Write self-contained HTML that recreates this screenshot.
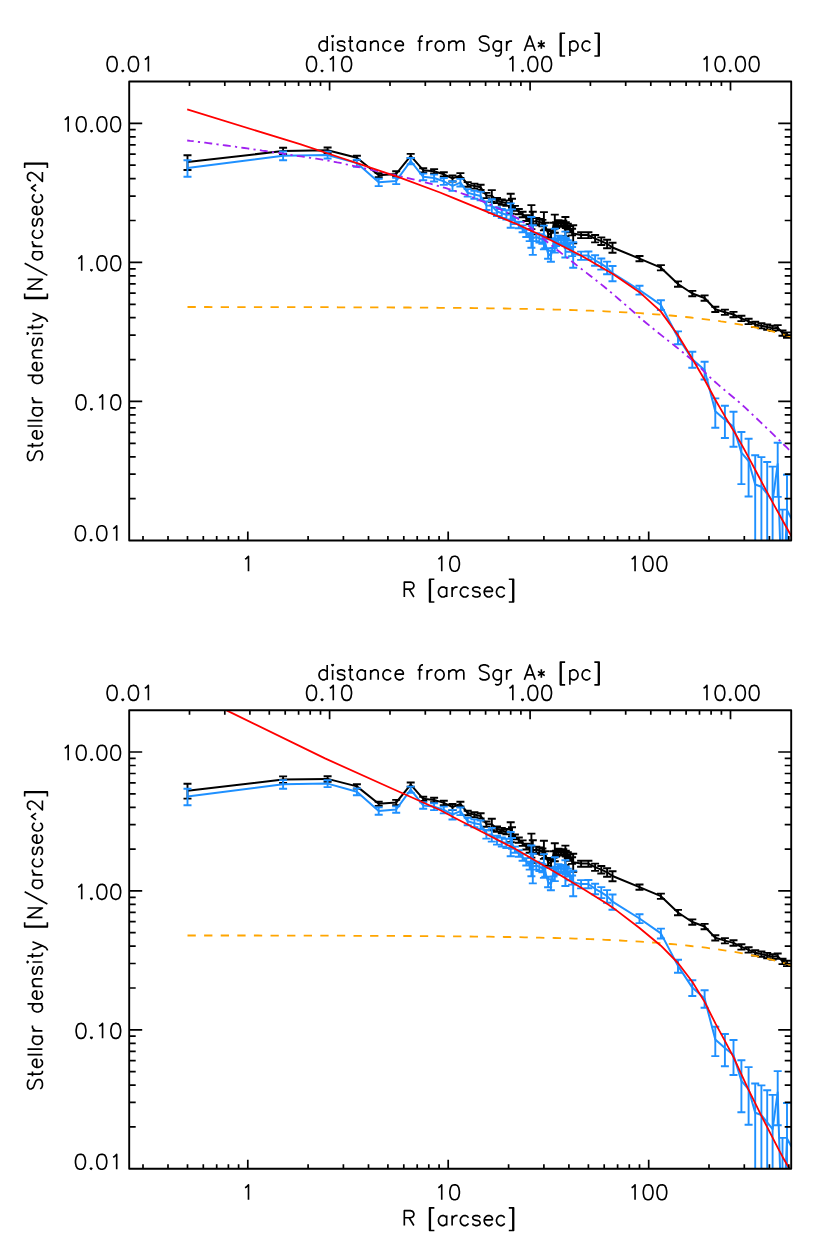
<!DOCTYPE html>
<html><head><meta charset="utf-8"><title>Stellar density profile</title>
<style>
html,body{margin:0;padding:0;background:#fff;}
svg{display:block;}
text{font-family:"Liberation Sans",sans-serif;fill:#000;}
</style></head>
<body>
<svg width="830" height="1251" viewBox="0 0 830 1251">
<rect width="830" height="1251" fill="#fff"/>
<clipPath id="c1"><rect x="129.2" y="81.5" width="662.0" height="459.0"/></clipPath>
<g clip-path="url(#c1)" fill="none" stroke-linejoin="round">
<polyline points="187.5,162.1 283.1,151.0 327.6,150.3 356.9,157.8 378.7,175.2 396.2,173.9 410.7,155.9 423.2,170.2 434.1,171.3 443.8,174.3 452.5,178.4 460.4,175.5 467.7,184.4 474.4,186.1 480.6,187.3 486.4,195.5 491.8,195.7 497.0,200.4 501.8,202.0 506.4,203.1 510.7,202.9 512.0,203.1 514.9,208.3 518.8,211.5 522.6,214.5 526.3,218.0 529.7,221.0 531.4,215.9 532.8,221.9 536.3,221.0 539.4,222.0 542.4,223.0 543.9,220.5 545.3,226.0 548.1,233.3 550.9,235.2 553.5,226.0 554.8,223.0 556.1,225.0 558.5,223.0 561.0,224.0 563.3,223.5 565.4,225.9 565.8,225.0 567.8,226.5 570.0,229.0 572.1,232.0 573.2,233.6 581.1,235.1 588.4,235.1 595.1,238.6 601.3,241.1 607.1,243.8 612.5,247.5 639.5,258.6 660.9,267.7 678.0,284.0 692.3,293.5 704.6,298.0 715.3,309.3 724.9,312.2 733.5,314.5 741.4,318.4 748.6,321.4 755.2,324.4 761.4,325.7 767.2,327.1 772.6,328.4 777.7,327.7 782.5,333.0 787.0,335.0 791.4,337.2" stroke="#000" stroke-width="2"/>
<path d="M187.5 155.2V170.0M183.5 155.2h8M183.5 170.0h8M283.1 147.8V154.3M279.1 147.8h8M279.1 154.3h8M327.6 147.5V153.2M323.6 147.5h8M323.6 153.2h8M356.9 155.7V160.0M352.9 155.7h8M352.9 160.0h8M378.7 173.1V177.3M374.7 173.1h8M374.7 177.3h8M396.2 171.3V176.6M392.2 171.3h8M392.2 176.6h8M410.7 153.9V158.0M406.7 153.9h8M406.7 158.0h8M423.2 168.2V172.4M419.2 168.2h8M419.2 172.4h8M434.1 169.1V173.5M430.1 169.1h8M430.1 173.5h8M443.8 172.2V176.5M439.8 172.2h8M439.8 176.5h8M452.5 175.5V181.5M448.5 175.5h8M448.5 181.5h8M460.4 173.1V177.9M456.4 173.1h8M456.4 177.9h8M467.7 182.1V186.7M463.7 182.1h8M463.7 186.7h8M474.4 183.6V188.6M470.4 183.6h8M470.4 188.6h8M480.6 184.7V189.9M476.6 184.7h8M476.6 189.9h8M486.4 192.9V198.1M482.4 192.9h8M482.4 198.1h8M491.8 190.1V201.8M487.8 190.1h8M487.8 201.8h8M497.0 197.9V203.1M493.0 197.9h8M493.0 203.1h8M501.8 199.4V204.7M497.8 199.4h8M497.8 204.7h8M506.4 200.4V205.9M502.4 200.4h8M502.4 205.9h8M510.7 193.7V213.7M506.7 193.7h8M506.7 213.7h8M512.0 198.7V207.8M508.0 198.7h8M508.0 207.8h8M514.9 205.9V210.8M510.9 205.9h8M510.9 210.8h8M518.8 209.0V214.2M514.8 209.0h8M514.8 214.2h8M522.6 211.8V217.3M518.6 211.8h8M518.6 217.3h8M526.3 215.2V221.0M522.3 215.2h8M522.3 221.0h8M529.7 218.0V224.1M525.7 218.0h8M525.7 224.1h8M531.4 205.1V229.1M527.4 205.1h8M527.4 229.1h8M532.8 211.7V234.2M528.8 211.7h8M528.8 234.2h8M536.3 218.0V224.1M532.3 218.0h8M532.3 224.1h8M539.4 219.0V225.2M535.4 219.0h8M535.4 225.2h8M542.4 219.9V226.2M538.4 219.9h8M538.4 226.2h8M543.9 212.1V230.4M539.9 212.1h8M539.9 230.4h8M545.3 222.8V229.4M541.3 222.8h8M541.3 229.4h8M548.1 229.6V237.1M544.1 229.6h8M544.1 237.1h8M550.9 231.4V239.1M546.9 231.4h8M546.9 239.1h8M553.5 222.8V229.4M549.5 222.8h8M549.5 229.4h8M554.8 214.6V232.7M550.8 214.6h8M550.8 232.7h8M556.1 222.1V228.0M552.1 222.1h8M552.1 228.0h8M558.5 220.2V225.9M554.5 220.2h8M554.5 225.9h8M561.0 221.2V226.9M557.0 221.2h8M557.0 226.9h8M563.3 220.7V226.4M559.3 220.7h8M559.3 226.4h8M565.4 217.0V236.3M561.4 217.0h8M561.4 236.3h8M565.8 222.1V228.0M561.8 222.1h8M561.8 228.0h8M567.8 223.6V229.6M563.8 223.6h8M563.8 229.6h8M570.0 226.0V232.2M566.0 226.0h8M566.0 232.2h8M572.1 228.8V235.4M568.1 228.8h8M568.1 235.4h8M573.2 225.2V243.4M569.2 225.2h8M569.2 243.4h8M581.1 232.2V238.1M577.1 232.2h8M577.1 238.1h8M588.4 232.2V238.1M584.4 232.2h8M584.4 238.1h8M595.1 235.0V242.4M591.1 235.0h8M591.1 242.4h8M601.3 237.4V245.0M597.3 237.4h8M597.3 245.0h8M607.1 239.7V248.2M603.1 239.7h8M603.1 248.2h8M612.5 242.7V252.7M608.5 242.7h8M608.5 252.7h8M639.5 256.0V261.3M635.5 256.0h8M635.5 261.3h8M660.9 265.1V270.4M656.9 265.1h8M656.9 270.4h8M678.0 281.4V286.7M674.0 281.4h8M674.0 286.7h8M692.3 290.9V296.2M688.3 290.9h8M688.3 296.2h8M704.6 295.4V300.7M700.6 295.4h8M700.6 300.7h8M715.3 306.7V312.0M711.3 306.7h8M711.3 312.0h8M724.9 309.6V314.9M720.9 309.6h8M720.9 314.9h8M733.5 311.9V317.2M729.5 311.9h8M729.5 317.2h8M741.4 315.8V321.1M737.4 315.8h8M737.4 321.1h8M748.6 318.8V324.1M744.6 318.8h8M744.6 324.1h8M755.2 321.8V327.1M751.2 321.8h8M751.2 327.1h8M761.4 323.1V328.4M757.4 323.1h8M757.4 328.4h8M767.2 324.5V329.8M763.2 324.5h8M763.2 329.8h8M772.6 325.8V331.1M768.6 325.8h8M768.6 331.1h8M777.7 325.1V330.4M773.7 325.1h8M773.7 330.4h8M782.5 330.4V335.7M778.5 330.4h8M778.5 335.7h8M787.0 332.4V337.7M783.0 332.4h8M783.0 337.7h8" stroke="#000" stroke-width="1.9" fill="none"/>
<polyline points="187.5,167.9 283.1,155.7 327.6,155.0 356.9,163.1 378.7,182.3 396.2,180.9 410.7,161.0 423.2,176.8 434.1,178.0 443.8,181.3 452.5,185.9 460.4,182.6 467.7,192.7 474.4,194.6 480.6,196.0 486.4,205.6 491.8,205.8 497.0,211.5 501.8,213.3 506.4,214.7 510.7,214.4 512.0,214.7 514.9,221.0 518.8,225.0 522.6,228.7 526.3,233.2 529.7,237.0 531.4,230.4 532.8,238.2 536.3,237.0 539.4,238.3 542.4,239.6 543.9,236.3 545.3,243.5 548.1,253.4 550.9,256.0 553.5,243.4 554.8,239.5 556.1,242.1 558.5,239.4 561.0,240.7 563.3,240.0 565.4,243.2 565.8,242.0 567.8,244.0 570.0,247.3 572.1,251.4 573.2,253.6 581.1,255.6 588.4,255.5 595.1,260.3 601.3,263.8 607.1,267.6 612.5,273.1 639.5,290.0 660.9,304.9 678.0,337.5 692.3,359.2 704.6,370.0 715.3,411.3 724.9,419.7 733.5,426.7 741.4,452.6 748.6,461.0 755.2,484.5 761.4,486.7 767.2,494.0 772.6,501.0 777.7,464.0 782.5,620.0 787.0,510.3 791.4,518.4" stroke="#1e90ff" stroke-width="2"/>
<path d="M187.5 160.2V176.7M183.5 160.2h8M183.5 176.7h8M283.1 151.5V160.2M279.1 151.5h8M279.1 160.2h8M327.6 151.6V158.5M323.6 151.6h8M323.6 158.5h8M356.9 159.8V166.7M352.9 159.8h8M352.9 166.7h8M378.7 178.8V186.1M374.7 178.8h8M374.7 186.1h8M396.2 177.8V184.1M392.2 177.8h8M392.2 184.1h8M410.7 158.0V164.3M406.7 158.0h8M406.7 164.3h8M423.2 173.6V180.2M419.2 173.6h8M419.2 180.2h8M434.1 174.6V181.5M430.1 174.6h8M430.1 181.5h8M443.8 178.0V184.9M439.8 178.0h8M439.8 184.9h8M452.5 181.3V190.9M448.5 181.3h8M448.5 190.9h8M460.4 178.9V186.5M456.4 178.9h8M456.4 186.5h8M467.7 189.1V196.6M463.7 189.1h8M463.7 196.6h8M474.4 190.8V198.8M470.4 190.8h8M470.4 198.8h8M480.6 191.9V200.4M476.6 191.9h8M476.6 200.4h8M486.4 201.4V210.0M482.4 201.4h8M482.4 210.0h8M491.8 199.3V213.1M487.8 199.3h8M487.8 213.1h8M497.0 207.3V216.0M493.0 207.3h8M493.0 216.0h8M501.8 209.0V218.0M497.8 209.0h8M497.8 218.0h8M506.4 210.2V219.5M502.4 210.2h8M502.4 219.5h8M510.7 203.4V227.8M506.7 203.4h8M506.7 227.8h8M512.0 209.4V220.4M508.0 209.4h8M508.0 220.4h8M514.9 218.0V224.1M510.9 218.0h8M510.9 224.1h8M518.8 221.8V228.3M514.8 221.8h8M514.8 228.3h8M522.6 225.4V232.3M518.6 225.4h8M518.6 232.3h8M526.3 229.5V237.0M522.3 229.5h8M522.3 237.0h8M529.7 233.2V241.1M525.7 233.2h8M525.7 241.1h8M531.4 217.0V247.8M527.4 217.0h8M527.4 247.8h8M532.8 225.2V254.9M528.8 225.2h8M528.8 254.9h8M536.3 233.1V241.1M532.3 233.1h8M532.3 241.1h8M539.4 234.3V242.5M535.4 234.3h8M535.4 242.5h8M542.4 235.6V243.8M538.4 235.6h8M538.4 243.8h8M543.9 225.6V249.4M539.9 225.6h8M539.9 249.4h8M545.3 239.2V248.1M541.3 239.2h8M541.3 248.1h8M548.1 248.4V258.8M544.1 248.4h8M544.1 258.8h8M550.9 250.8V261.7M546.9 250.8h8M546.9 261.7h8M553.5 239.2V248.0M549.5 239.2h8M549.5 248.0h8M554.8 228.7V252.6M550.8 228.7h8M550.8 252.6h8M556.1 238.3V246.1M552.1 238.3h8M552.1 246.1h8M558.5 235.8V243.3M554.5 235.8h8M554.5 243.3h8M561.0 237.0V244.6M557.0 237.0h8M557.0 244.6h8M563.3 236.4V243.9M559.3 236.4h8M559.3 243.9h8M565.4 231.6V257.5M561.4 231.6h8M561.4 257.5h8M565.8 238.2V246.0M561.8 238.2h8M561.8 246.0h8M567.8 240.1V248.1M563.8 240.1h8M563.8 248.1h8M570.0 243.2V251.7M566.0 243.2h8M566.0 251.7h8M572.1 247.0V256.1M568.1 247.0h8M568.1 256.1h8M573.2 242.2V267.7M569.2 242.2h8M569.2 267.7h8M581.1 251.6V259.9M577.1 251.6h8M577.1 259.9h8M588.4 251.5V259.8M584.4 251.5h8M584.4 259.8h8M595.1 255.3V265.8M591.1 255.3h8M591.1 265.8h8M601.3 258.5V269.6M597.3 258.5h8M597.3 269.6h8M607.1 261.6V274.3M603.1 261.6h8M603.1 274.3h8M612.5 266.0V281.2M608.5 266.0h8M608.5 281.2h8M639.5 285.7V294.6M635.5 285.7h8M635.5 294.6h8M660.9 300.2V310.0M656.9 300.2h8M656.9 310.0h8M678.0 331.4V344.3M674.0 331.4h8M674.0 344.3h8M692.3 351.8V367.7M688.3 351.8h8M688.3 367.7h8M704.6 361.8V379.5M700.6 361.8h8M700.6 379.5h8M715.3 398.4V427.7M711.3 398.4h8M711.3 427.7h8M724.9 405.7V438.0M720.9 405.7h8M720.9 438.0h8M733.5 411.7V446.7M729.5 411.7h8M729.5 446.7h8M741.4 432.0V484.1M737.4 432.0h8M737.4 484.1h8M748.6 438.8V496.5M744.6 438.8h8M744.6 496.5h8M755.2 455.2V543.5M751.2 455.2h8M751.2 543.5h8M761.4 457.1V547.2M757.4 457.1h8M757.4 547.2h8M767.2 462.0V566.3M763.2 462.0h8M763.2 566.3h8M772.6 466.6V588.9M768.6 466.6h8M768.6 588.9h8M777.7 442.8V496.9M773.7 442.8h8M773.7 496.9h8M782.5 509.6V700.0M778.5 509.6h8M778.5 700.0h8M787.0 474.7V608.1M783.0 474.7h8M783.0 608.1h8" stroke="#1e90ff" stroke-width="1.9" fill="none"/>
<polyline points="187.5,307.0 192.5,307.0 197.5,307.0 202.6,307.0 207.6,307.0 212.6,307.1 217.7,307.1 222.7,307.1 227.7,307.1 232.8,307.1 237.8,307.1 242.8,307.1 247.9,307.1 252.9,307.1 257.9,307.1 262.9,307.1 268.0,307.1 273.0,307.1 278.0,307.1 283.1,307.1 288.1,307.1 293.1,307.1 298.2,307.2 303.2,307.2 308.2,307.2 313.3,307.2 318.3,307.2 323.3,307.2 328.4,307.2 333.4,307.2 338.4,307.3 343.5,307.3 348.5,307.3 353.5,307.3 358.6,307.3 363.6,307.3 368.6,307.4 373.7,307.4 378.7,307.4 383.7,307.4 388.8,307.4 393.8,307.5 398.8,307.5 403.9,307.5 408.9,307.5 413.9,307.6 419.0,307.6 424.0,307.6 429.0,307.7 434.1,307.7 439.1,307.8 444.1,307.8 449.2,307.8 454.2,307.9 459.2,307.9 464.3,308.0 469.3,308.0 474.3,308.1 479.4,308.2 484.4,308.2 489.4,308.3 494.5,308.4 499.5,308.4 504.5,308.5 509.6,308.6 514.6,308.7 519.6,308.8 524.6,308.9 529.7,309.0 534.7,309.1 539.7,309.2 544.8,309.3 549.8,309.4 554.8,309.6 559.9,309.7 564.9,309.8 569.9,310.0 575.0,310.2 580.0,310.3 585.0,310.5 590.1,310.7 595.1,310.9 600.1,311.1 605.2,311.3 610.2,311.6 615.2,311.8 620.3,312.1 625.3,312.3 630.3,312.6 635.4,312.9 640.4,313.2 645.4,313.6 650.5,313.9 655.5,314.3 660.5,314.7 665.6,315.1 670.6,315.5 675.6,316.0 680.7,316.5 685.7,317.0 690.7,317.5 695.8,318.1 700.8,318.7 705.8,319.3 710.9,319.9 715.9,320.6 720.9,321.4 726.0,322.1 731.0,322.9 736.0,323.8 741.1,324.7 746.1,325.6 751.1,326.6 756.2,327.7 761.2,328.8 766.2,330.0 771.3,331.2 776.3,332.5 781.3,333.8 786.3,335.3 791.4,336.8" stroke="#ffa500" stroke-width="1.8" stroke-dasharray="8.3 8.3"/>
<polyline points="187.2,140.5 190.2,140.9 193.2,141.2 196.2,141.6 199.2,142.0 202.2,142.4 205.2,142.7 208.2,143.1 211.2,143.5 214.2,143.9 217.2,144.3 220.2,144.7 223.2,145.1 226.2,145.5 229.2,145.9 232.2,146.3 235.2,146.7 238.2,147.2 241.2,147.6 244.2,148.0 247.2,148.4 250.2,148.9 253.2,149.3 256.2,149.7 259.2,150.1 262.2,150.6 265.2,151.0 268.2,151.5 271.2,151.9 274.2,152.4 277.2,152.8 280.2,153.2 283.2,153.7 286.2,154.1 289.2,154.6 292.2,155.1 295.2,155.5 298.2,156.0 301.2,156.4 304.2,156.9 307.2,157.3 310.2,157.8 313.2,158.3 316.2,158.7 319.2,159.2 322.2,159.7 325.2,160.2 328.2,160.7 331.2,161.3 334.2,161.8 337.2,162.4 340.2,162.9 343.2,163.6 346.2,164.3 349.2,164.9 352.2,165.6 355.2,166.3 358.2,167.0 361.2,167.6 364.2,168.3 367.2,169.0 370.2,169.6 373.2,170.3 376.2,170.9 379.2,171.6 382.2,172.3 385.2,172.9 388.2,173.6 391.2,174.3 394.2,174.9 397.2,175.6 400.2,176.3 403.2,177.0 406.2,177.7 409.2,178.4 412.2,179.1 415.2,179.9 418.2,180.6 421.2,181.4 424.2,182.1 427.2,182.9 430.2,183.7 433.2,184.5 436.2,185.4 439.2,186.2 442.2,187.1 445.2,187.9 448.2,188.9 451.2,189.8 454.2,190.8 457.2,191.8 460.2,192.8 463.2,193.8 466.2,194.9 469.2,196.0 472.2,197.2 475.2,198.3 478.2,199.5 481.2,200.8 484.2,202.0 487.2,203.3 490.2,204.6 493.2,205.9 496.2,207.3 499.2,208.7 502.2,210.2 505.2,211.7 508.2,213.2 511.2,214.8 514.2,216.5 517.2,218.2 520.2,220.1 523.2,222.0 526.2,224.0 529.2,226.4 532.2,228.9 535.2,231.6 538.2,234.4 541.2,237.0 544.2,239.6 547.2,242.0 550.2,244.4 553.2,246.8 556.2,249.2 559.2,251.5 562.2,253.9 565.2,256.2 568.2,258.6 571.2,260.9 574.2,263.3 577.2,265.6 580.2,268.0 583.2,270.3 586.2,272.6 589.2,275.0 592.2,277.3 595.2,279.6 598.2,282.0 601.2,284.4 604.2,286.8 607.2,289.3 610.2,291.8 613.2,294.3 616.2,296.9 619.2,299.5 622.2,302.1 625.2,304.6 628.2,307.1 631.2,309.8 634.2,312.5 637.2,315.3 640.2,317.9 643.2,320.5 646.2,323.0 649.2,325.4 652.2,327.9 655.2,330.3 658.2,332.7 661.2,335.1 664.2,337.5 667.2,339.9 670.2,342.3 673.2,344.6 676.2,347.0 679.2,349.3 682.2,351.8 685.2,354.3 688.2,356.8 691.2,359.4 694.2,362.0 697.2,364.8 700.2,367.6 703.2,370.6 706.2,373.6 709.2,376.5 712.2,379.3 715.2,382.0 718.2,384.6 721.2,387.2 724.2,389.7 727.2,392.2 730.2,394.7 733.2,397.2 736.2,399.7 739.2,402.3 742.2,405.0 745.2,407.7 748.2,410.5 751.2,413.3 754.2,416.1 757.2,419.0 760.2,421.9 763.2,424.7 766.2,427.6 769.2,430.5 772.2,433.4 775.2,436.3 778.2,439.2 781.2,442.1 784.2,445.0 787.2,447.9 790.2,450.9" stroke="#a020f0" stroke-width="1.8" stroke-dasharray="8 4.25 2.2 4.25" stroke-dashoffset="1.5"/>
<polyline points="187.2,109.4 300.0,144.2 340.0,157.5 360.0,164.1 400.0,177.6 440.0,192.5 455.0,198.7 480.0,208.9 515.0,223.3 529.2,229.9 540.0,234.7 581.0,255.5 612.5,273.8 639.5,292.2 660.9,311.6 678.0,335.3 692.3,358.8 704.6,379.8 715.6,400.2 725.7,417.6 734.5,432.3 742.2,445.6 749.8,459.6 756.1,471.5 762.4,483.4 768.4,494.6 773.7,504.4 779.2,514.2 782.5,520.2 787.1,528.5 791.4,536.3" stroke="#ff0000" stroke-width="1.8"/>
</g>
<rect x="129.2" y="81.5" width="662.0" height="459.0" fill="none" stroke="#000" stroke-width="1.9" stroke-linejoin="round"/>
<path d="M143.0 540.5v-4.5M168.0 540.5v-4.5M187.5 540.5v-4.5M203.3 540.5v-4.5M216.7 540.5v-4.5M228.4 540.5v-4.5M238.6 540.5v-4.5M247.8 540.5v-9.0M308.1 540.5v-4.5M343.4 540.5v-4.5M368.5 540.5v-4.5M387.9 540.5v-4.5M403.8 540.5v-4.5M417.2 540.5v-4.5M428.8 540.5v-4.5M439.1 540.5v-4.5M448.2 540.5v-9.0M508.6 540.5v-4.5M543.9 540.5v-4.5M568.9 540.5v-4.5M588.4 540.5v-4.5M604.2 540.5v-4.5M617.6 540.5v-4.5M629.3 540.5v-4.5M639.5 540.5v-4.5M648.7 540.5v-9.0M709.0 540.5v-4.5M744.3 540.5v-4.5M769.4 540.5v-4.5M788.8 540.5v-4.5M189.5 81.5v4.5M224.8 81.5v4.5M249.9 81.5v4.5M269.3 81.5v4.5M285.2 81.5v4.5M298.6 81.5v4.5M310.2 81.5v4.5M320.5 81.5v4.5M329.6 81.5v9.0M390.0 81.5v4.5M425.3 81.5v4.5M450.3 81.5v4.5M469.8 81.5v4.5M485.6 81.5v4.5M499.0 81.5v4.5M510.7 81.5v4.5M520.9 81.5v4.5M530.1 81.5v9.0M590.4 81.5v4.5M625.7 81.5v4.5M650.8 81.5v4.5M670.2 81.5v4.5M686.1 81.5v4.5M699.5 81.5v4.5M711.1 81.5v4.5M721.4 81.5v4.5M730.5 81.5v9.0M129.2 498.6h6.5M791.2 498.6h-6.5M129.2 474.2h6.5M791.2 474.2h-6.5M129.2 456.8h6.5M791.2 456.8h-6.5M129.2 443.3h6.5M791.2 443.3h-6.5M129.2 432.3h6.5M791.2 432.3h-6.5M129.2 423.0h6.5M791.2 423.0h-6.5M129.2 414.9h6.5M791.2 414.9h-6.5M129.2 407.8h6.5M791.2 407.8h-6.5M129.2 401.4h13.0M791.2 401.4h-13.0M129.2 359.6h6.5M791.2 359.6h-6.5M129.2 335.1h6.5M791.2 335.1h-6.5M129.2 317.7h6.5M791.2 317.7h-6.5M129.2 304.3h6.5M791.2 304.3h-6.5M129.2 293.2h6.5M791.2 293.2h-6.5M129.2 283.9h6.5M791.2 283.9h-6.5M129.2 275.9h6.5M791.2 275.9h-6.5M129.2 268.8h6.5M791.2 268.8h-6.5M129.2 262.4h13.0M791.2 262.4h-13.0M129.2 220.5h6.5M791.2 220.5h-6.5M129.2 196.1h6.5M791.2 196.1h-6.5M129.2 178.7h6.5M791.2 178.7h-6.5M129.2 165.2h6.5M791.2 165.2h-6.5M129.2 154.2h6.5M791.2 154.2h-6.5M129.2 144.9h6.5M791.2 144.9h-6.5M129.2 136.8h6.5M791.2 136.8h-6.5M129.2 129.7h6.5M791.2 129.7h-6.5M129.2 123.3h13.0M791.2 123.3h-13.0" stroke="#000" stroke-width="1.7" fill="none"/>
<path d="M327.18 43.19L327.18 48.87L325.82 50.29L324.46 51.00L322.42 51.00L321.06 50.29L319.70 48.87L319.02 46.74L319.02 45.32L319.70 43.19L321.06 41.77L322.42 41.06L324.46 41.06L325.82 41.77L327.18 43.19L327.18 36.09M327.18 48.87L327.18 51.00M332.62 51.00L332.62 41.06M332.62 35.38L333.30 36.09L332.62 36.80L331.94 36.09L332.62 35.38M337.38 48.87L338.06 50.29L340.10 51.00L342.14 51.00L344.18 50.29L344.86 48.87L344.86 48.16L344.18 46.74L342.82 46.03L339.42 45.32L338.06 44.61L337.38 43.19L338.06 41.77L340.10 41.06L342.14 41.06L344.18 41.77L344.86 43.19M348.26 41.06L350.30 41.06L350.30 36.09M353.70 51.00L352.34 51.00L350.98 50.29L350.30 48.16L350.30 41.06L353.02 41.06M365.26 43.19L365.26 48.87L363.90 50.29L362.54 51.00L360.50 51.00L359.14 50.29L357.78 48.87L357.10 46.74L357.10 45.32L357.78 43.19L359.14 41.77L360.50 41.06L362.54 41.06L363.90 41.77L365.26 43.19L365.26 41.06M365.26 48.87L365.26 51.00M378.17 51.00L378.17 43.90L377.49 41.77L376.13 41.06L374.09 41.06L372.73 41.77L370.69 43.90L370.69 41.06M370.69 43.90L370.69 51.00M391.09 48.87L389.73 50.29L388.37 51.00L386.33 51.00L384.97 50.29L383.61 48.87L382.93 46.74L382.93 45.32L383.61 43.19L384.97 41.77L386.33 41.06L388.37 41.06L389.73 41.77L391.09 43.19M395.17 45.32L403.33 45.32L403.33 43.90L402.65 42.48L401.97 41.77L400.61 41.06L398.57 41.06L397.21 41.77L395.85 43.19L395.17 45.32L395.17 46.74L395.85 48.87L397.21 50.29L398.57 51.00L400.61 51.00L401.97 50.29L403.33 48.87M417.60 41.06L419.64 41.06L419.64 38.93L420.32 36.80L421.68 36.09L423.04 36.09M419.64 51.00L419.64 41.06L422.36 41.06M432.56 41.06L430.52 41.06L429.16 41.77L427.80 43.19L427.12 45.32L427.12 41.06M427.12 45.32L427.12 51.00M438.68 41.06L437.32 41.77L435.96 43.19L435.28 45.32L435.28 46.74L435.96 48.87L437.32 50.29L438.68 51.00L440.72 51.00L442.08 50.29L443.44 48.87L444.12 46.74L444.12 45.32L443.44 43.19L442.08 41.77L440.72 41.06L438.68 41.06M463.83 51.00L463.83 43.90L463.15 41.77L461.79 41.06L459.75 41.06L458.40 41.77L456.36 43.90L455.68 41.77L454.32 41.06L452.28 41.06L450.92 41.77L448.88 43.90L448.88 41.06M448.88 43.90L448.88 51.00M456.36 43.90L456.36 51.00M479.47 48.87L480.83 50.29L482.87 51.00L485.59 51.00L487.63 50.29L488.99 48.87L488.99 46.74L488.31 45.32L487.63 44.61L486.27 43.90L482.19 42.48L480.83 41.77L480.15 41.06L479.47 39.64L479.47 38.22L480.83 36.80L482.87 36.09L485.59 36.09L487.63 36.80L488.99 38.22M501.23 43.19L501.23 48.87L499.87 50.29L498.51 51.00L496.47 51.00L495.11 50.29L493.75 48.87L493.07 46.74L493.07 45.32L493.75 43.19L495.11 41.77L496.47 41.06L498.51 41.06L499.87 41.77L501.23 43.19L501.23 41.06M501.23 48.87L501.23 52.42L500.55 54.55L499.87 55.26L498.51 55.97L496.47 55.97L495.11 55.26M512.10 41.06L510.06 41.06L508.70 41.77L507.34 43.19L506.66 45.32L506.66 41.06M506.66 45.32L506.66 51.00M535.22 51.00L529.78 36.09L524.34 51.00M533.18 46.03L526.38 46.03M537.94 42.48L541.34 44.61L541.34 40.35M541.34 48.87L541.34 44.61L544.74 42.48M544.74 46.74L541.34 44.61L537.94 46.74M565.13 55.97L560.37 55.97L560.37 33.25L565.13 33.25M561.05 33.25L561.05 55.97M569.89 43.19L569.89 48.87L571.25 50.29L572.61 51.00L574.65 51.00L576.01 50.29L577.37 48.87L578.05 46.74L578.05 45.32L577.37 43.19L576.01 41.77L574.65 41.06L572.61 41.06L571.25 41.77L569.89 43.19L569.89 41.06M569.89 48.87L569.89 55.97M590.29 48.87L588.93 50.29L587.57 51.00L585.53 51.00L584.17 50.29L582.81 48.87L582.13 46.74L582.13 45.32L582.81 43.19L584.17 41.77L585.53 41.06L587.57 41.06L588.93 41.77L590.29 43.19M594.37 55.97L599.13 55.97L599.13 33.25L594.37 33.25M598.45 33.25L598.45 55.97M111.39 56.59L109.26 57.30L107.84 59.43L107.12 62.98L107.12 65.11L107.84 68.66L109.26 70.79L111.39 71.50L112.81 71.50L114.95 70.79L116.37 68.66L117.08 65.11L117.08 62.98L116.37 59.43L114.95 57.30L112.81 56.59L111.39 56.59M122.77 70.08L123.48 70.79L122.77 71.50L122.06 70.79L122.77 70.08M132.73 56.59L130.59 57.30L129.17 59.43L128.46 62.98L128.46 65.11L129.17 68.66L130.59 70.79L132.73 71.50L134.15 71.50L136.28 70.79L137.71 68.66L138.42 65.11L138.42 62.98L137.71 59.43L136.28 57.30L134.15 56.59L132.73 56.59M148.37 71.50L148.37 56.59L146.24 58.72L144.82 59.43M310.83 56.59L308.73 57.30L307.33 59.43L306.62 62.98L306.62 65.11L307.33 68.66L308.73 70.79L310.83 71.50L312.24 71.50L314.34 70.79L315.75 68.66L316.45 65.11L316.45 62.98L315.75 59.43L314.34 57.30L312.24 56.59L310.83 56.59M322.06 70.08L322.76 70.79L322.06 71.50L321.36 70.79L322.06 70.08M333.28 71.50L333.28 56.59L331.18 58.72L329.78 59.43M345.91 56.59L343.81 57.30L342.40 59.43L341.70 62.98L341.70 65.11L342.40 68.66L343.81 70.79L345.91 71.50L347.32 71.50L349.42 70.79L350.82 68.66L351.52 65.11L351.52 62.98L350.82 59.43L349.42 57.30L347.32 56.59L345.91 56.59M512.84 71.50L512.84 56.59L510.77 58.72L509.39 59.43M522.50 70.08L523.19 70.79L522.50 71.50L521.81 70.79L522.50 70.08M532.16 56.59L530.09 57.30L528.71 59.43L528.02 62.98L528.02 65.11L528.71 68.66L530.09 70.79L532.16 71.50L533.54 71.50L535.61 70.79L536.99 68.66L537.68 65.11L537.68 62.98L536.99 59.43L535.61 57.30L533.54 56.59L532.16 56.59M545.96 56.59L543.89 57.30L542.51 59.43L541.82 62.98L541.82 65.11L542.51 68.66L543.89 70.79L545.96 71.50L547.34 71.50L549.41 70.79L550.79 68.66L551.48 65.11L551.48 62.98L550.79 59.43L549.41 57.30L547.34 56.59L545.96 56.59M706.95 71.50L706.95 56.59L704.89 58.72L703.53 59.43M719.27 56.59L717.22 57.30L715.85 59.43L715.16 62.98L715.16 65.11L715.85 68.66L717.22 70.79L719.27 71.50L720.64 71.50L722.69 70.79L724.06 68.66L724.75 65.11L724.75 62.98L724.06 59.43L722.69 57.30L720.64 56.59L719.27 56.59M730.22 70.08L730.91 70.79L730.22 71.50L729.54 70.79L730.22 70.08M739.81 56.59L737.75 57.30L736.38 59.43L735.70 62.98L735.70 65.11L736.38 68.66L737.75 70.79L739.81 71.50L741.18 71.50L743.23 70.79L744.60 68.66L745.28 65.11L745.28 62.98L744.60 59.43L743.23 57.30L741.18 56.59L739.81 56.59M753.50 56.59L751.44 57.30L750.08 59.43L749.39 62.98L749.39 65.11L750.08 68.66L751.44 70.79L753.50 71.50L754.87 71.50L756.92 70.79L758.29 68.66L758.97 65.11L758.97 62.98L758.29 59.43L756.92 57.30L754.87 56.59L753.50 56.59M248.49 571.20L248.49 556.29L246.42 558.42L245.04 559.13M441.72 571.20L441.72 556.29L439.68 558.42L438.32 559.13M453.94 556.29L451.91 557.00L450.55 559.13L449.87 562.68L449.87 564.81L450.55 568.36L451.91 570.49L453.94 571.20L455.30 571.20L457.34 570.49L458.70 568.36L459.38 564.81L459.38 562.68L458.70 559.13L457.34 557.00L455.30 556.29L453.94 556.29M635.06 571.20L635.06 556.29L633.00 558.42L631.62 559.13M647.43 556.29L645.37 557.00L644.00 559.13L643.31 562.68L643.31 564.81L644.00 568.36L645.37 570.49L647.43 571.20L648.81 571.20L650.87 570.49L652.24 568.36L652.93 564.81L652.93 562.68L652.24 559.13L650.87 557.00L648.81 556.29L647.43 556.29M661.18 556.29L659.12 557.00L657.74 559.13L657.05 562.68L657.05 564.81L657.74 568.36L659.12 570.49L661.18 571.20L662.55 571.20L664.61 570.49L665.99 568.36L666.68 564.81L666.68 562.68L665.99 559.13L664.61 557.00L662.55 556.29L661.18 556.29M409.10 589.19L410.47 589.19L412.52 588.48L413.20 587.77L413.88 586.35L413.88 584.93L413.20 583.51L412.52 582.80L410.47 582.09L404.32 582.09L404.32 589.19L409.10 589.19L413.88 597.00M404.32 589.19L404.32 597.00M434.37 601.97L429.59 601.97L429.59 579.25L434.37 579.25M430.27 579.25L430.27 601.97M446.66 589.19L446.66 594.87L445.29 596.29L443.93 597.00L441.88 597.00L440.51 596.29L439.15 594.87L438.47 592.74L438.47 591.32L439.15 589.19L440.51 587.77L441.88 587.06L443.93 587.06L445.29 587.77L446.66 589.19L446.66 587.06M446.66 594.87L446.66 597.00M457.58 587.06L455.54 587.06L454.17 587.77L452.80 589.19L452.12 591.32L452.12 587.06M452.12 591.32L452.12 597.00M468.51 594.87L467.14 596.29L465.78 597.00L463.73 597.00L462.36 596.29L461.00 594.87L460.32 592.74L460.32 591.32L461.00 589.19L462.36 587.77L463.73 587.06L465.78 587.06L467.14 587.77L468.51 589.19M472.61 594.87L473.29 596.29L475.34 597.00L477.39 597.00L479.43 596.29L480.12 594.87L480.12 594.16L479.43 592.74L478.07 592.03L474.65 591.32L473.29 590.61L472.61 589.19L473.29 587.77L475.34 587.06L477.39 587.06L479.43 587.77L480.12 589.19M484.21 591.32L492.41 591.32L492.41 589.90L491.72 588.48L491.04 587.77L489.68 587.06L487.63 587.06L486.26 587.77L484.90 589.19L484.21 591.32L484.21 592.74L484.90 594.87L486.26 596.29L487.63 597.00L489.68 597.00L491.04 596.29L492.41 594.87M504.70 594.87L503.33 596.29L501.97 597.00L499.92 597.00L498.55 596.29L497.19 594.87L496.50 592.74L496.50 591.32L497.19 589.19L498.55 587.77L499.92 587.06L501.97 587.06L503.33 587.77L504.70 589.19M508.80 601.97L513.57 601.97L513.57 579.25L508.80 579.25M512.89 579.25L512.89 601.97M68.17 131.70L68.17 116.79L66.10 118.92L64.72 119.63M80.56 116.79L78.49 117.50L77.11 119.63L76.43 123.18L76.43 125.31L77.11 128.86L78.49 130.99L80.56 131.70L81.93 131.70L84.00 130.99L85.37 128.86L86.06 125.31L86.06 123.18L85.37 119.63L84.00 117.50L81.93 116.79L80.56 116.79M91.57 130.28L92.26 130.99L91.57 131.70L90.88 130.99L91.57 130.28M101.20 116.79L99.14 117.50L97.76 119.63L97.07 123.18L97.07 125.31L97.76 128.86L99.14 130.99L101.20 131.70L102.58 131.70L104.64 130.99L106.02 128.86L106.71 125.31L106.71 123.18L106.02 119.63L104.64 117.50L102.58 116.79L101.20 116.79M114.97 116.79L112.90 117.50L111.53 119.63L110.84 123.18L110.84 125.31L111.53 128.86L112.90 130.99L114.97 131.70L116.35 131.70L118.41 130.99L119.79 128.86L120.47 125.31L120.47 123.18L119.79 119.63L118.41 117.50L116.35 116.79L114.97 116.79M81.70 270.75L81.70 255.84L79.61 257.97L78.22 258.68M91.43 269.33L92.12 270.04L91.43 270.75L90.73 270.04L91.43 269.33M101.16 255.84L99.07 256.55L97.68 258.68L96.99 262.23L96.99 264.36L97.68 267.91L99.07 270.04L101.16 270.75L102.55 270.75L104.63 270.04L106.02 267.91L106.72 264.36L106.72 262.23L106.02 258.68L104.63 256.55L102.55 255.84L101.16 255.84M115.06 255.84L112.97 256.55L111.58 258.68L110.89 262.23L110.89 264.36L111.58 267.91L112.97 270.04L115.06 270.75L116.45 270.75L118.53 270.04L119.92 267.91L120.62 264.36L120.62 262.23L119.92 258.68L118.53 256.55L116.45 255.84L115.06 255.84M80.31 394.89L78.22 395.60L76.83 397.73L76.14 401.28L76.14 403.41L76.83 406.96L78.22 409.09L80.31 409.80L81.70 409.80L83.78 409.09L85.17 406.96L85.87 403.41L85.87 401.28L85.17 397.73L83.78 395.60L81.70 394.89L80.31 394.89M91.43 408.38L92.12 409.09L91.43 409.80L90.73 409.09L91.43 408.38M102.55 409.80L102.55 394.89L100.46 397.02L99.07 397.73M115.06 394.89L112.97 395.60L111.58 397.73L110.89 401.28L110.89 403.41L111.58 406.96L112.97 409.09L115.06 409.80L116.45 409.80L118.53 409.09L119.92 406.96L120.62 403.41L120.62 401.28L119.92 397.73L118.53 395.60L116.45 394.89L115.06 394.89M79.74 525.79L77.61 526.50L76.19 528.63L75.48 532.18L75.48 534.31L76.19 537.86L77.61 539.99L79.74 540.70L81.16 540.70L83.29 539.99L84.71 537.86L85.42 534.31L85.42 532.18L84.71 528.63L83.29 526.50L81.16 525.79L79.74 525.79M91.10 539.28L91.81 539.99L91.10 540.70L90.39 539.99L91.10 539.28M101.05 525.79L98.92 526.50L97.50 528.63L96.79 532.18L96.79 534.31L97.50 537.86L98.92 539.99L101.05 540.70L102.47 540.70L104.60 539.99L106.02 537.86L106.73 534.31L106.73 532.18L106.02 528.63L104.60 526.50L102.47 525.79L101.05 525.79M116.68 540.70L116.68 525.79L114.54 527.92L113.12 528.63M40.27 460.48L41.69 459.12L42.40 457.10L42.40 454.39L41.69 452.37L40.27 451.02L38.14 451.02L36.72 451.69L36.01 452.37L35.30 453.72L33.88 457.77L33.17 459.12L32.46 459.80L31.04 460.48L29.62 460.48L28.20 459.12L27.49 457.10L27.49 454.39L28.20 452.37L29.62 451.02M32.46 447.64L32.46 445.61L27.49 445.61M42.40 442.23L42.40 443.59L41.69 444.94L39.56 445.61L32.46 445.61L32.46 442.91M36.72 438.86L36.72 430.75L35.30 430.75L33.88 431.43L33.17 432.10L32.46 433.45L32.46 435.48L33.17 436.83L34.59 438.18L36.72 438.86L38.14 438.86L40.27 438.18L41.69 436.83L42.40 435.48L42.40 433.45L41.69 432.10L40.27 430.75M42.40 426.02L27.49 426.02M42.40 420.62L27.49 420.62M34.59 407.78L40.27 407.78L41.69 409.13L42.40 410.48L42.40 412.51L41.69 413.86L40.27 415.21L38.14 415.89L36.72 415.89L34.59 415.21L33.17 413.86L32.46 412.51L32.46 410.48L33.17 409.13L34.59 407.78L32.46 407.78M40.27 407.78L42.40 407.78M32.46 396.97L32.46 399.00L33.17 400.35L34.59 401.70L36.72 402.38L32.46 402.38M36.72 402.38L42.40 402.38M34.59 375.35L40.27 375.35L41.69 376.70L42.40 378.06L42.40 380.08L41.69 381.43L40.27 382.78L38.14 383.46L36.72 383.46L34.59 382.78L33.17 381.43L32.46 380.08L32.46 378.06L33.17 376.70L34.59 375.35L27.49 375.35M40.27 375.35L42.40 375.35M36.72 370.62L36.72 362.52L35.30 362.52L33.88 363.19L33.17 363.87L32.46 365.22L32.46 367.25L33.17 368.60L34.59 369.95L36.72 370.62L38.14 370.62L40.27 369.95L41.69 368.60L42.40 367.25L42.40 365.22L41.69 363.87L40.27 362.52M42.40 350.36L35.30 350.36L33.17 351.03L32.46 352.38L32.46 354.41L33.17 355.76L35.30 357.79L32.46 357.79M35.30 357.79L42.40 357.79M40.27 345.63L41.69 344.95L42.40 342.93L42.40 340.90L41.69 338.87L40.27 338.20L39.56 338.20L38.14 338.87L37.43 340.22L36.72 343.60L36.01 344.95L34.59 345.63L33.17 344.95L32.46 342.93L32.46 340.90L33.17 338.87L34.59 338.20M42.40 333.47L32.46 333.47M26.78 333.47L27.49 332.79L28.20 333.47L27.49 334.14L26.78 333.47M32.46 329.41L32.46 327.39L27.49 327.39M42.40 324.01L42.40 325.36L41.69 326.71L39.56 327.39L32.46 327.39L32.46 324.69M32.46 313.20L42.40 317.25L32.46 321.31M42.40 317.25L45.24 318.61L46.66 319.96L47.37 321.31L47.37 321.98M47.37 293.61L47.37 298.34L24.65 298.34L24.65 293.61M24.65 297.66L47.37 297.66M42.40 288.88L27.49 288.88L42.40 279.42L27.49 279.42M47.37 275.37L24.65 263.21M34.59 251.72L40.27 251.72L41.69 253.08L42.40 254.43L42.40 256.45L41.69 257.80L40.27 259.16L38.14 259.83L36.72 259.83L34.59 259.16L33.17 257.80L32.46 256.45L32.46 254.43L33.17 253.08L34.59 251.72L32.46 251.72M40.27 251.72L42.40 251.72M32.46 240.92L32.46 242.94L33.17 244.29L34.59 245.64L36.72 246.32L32.46 246.32M36.72 246.32L42.40 246.32M40.27 230.11L41.69 231.46L42.40 232.81L42.40 234.84L41.69 236.19L40.27 237.54L38.14 238.21L36.72 238.21L34.59 237.54L33.17 236.19L32.46 234.84L32.46 232.81L33.17 231.46L34.59 230.11M40.27 226.05L41.69 225.38L42.40 223.35L42.40 221.32L41.69 219.30L40.27 218.62L39.56 218.62L38.14 219.30L37.43 220.65L36.72 224.03L36.01 225.38L34.59 226.05L33.17 225.38L32.46 223.35L32.46 221.32L33.17 219.30L34.59 218.62M36.72 214.57L36.72 206.46L35.30 206.46L33.88 207.14L33.17 207.81L32.46 209.16L32.46 211.19L33.17 212.54L34.59 213.89L36.72 214.57L38.14 214.57L40.27 213.89L41.69 212.54L42.40 211.19L42.40 209.16L41.69 207.81L40.27 206.46M40.27 194.30L41.69 195.65L42.40 197.00L42.40 199.03L41.69 200.38L40.27 201.73L38.14 202.41L36.72 202.41L34.59 201.73L33.17 200.38L32.46 199.03L32.46 197.00L33.17 195.65L34.59 194.30M36.01 191.26L31.39 187.88L36.01 184.51M42.40 172.01L42.40 181.47L35.30 174.71L33.17 173.36L31.75 172.68L30.33 172.68L28.91 173.36L28.20 174.03L27.49 175.39L27.49 178.09L28.20 179.44L28.91 180.11L30.33 180.79L31.04 180.79M47.37 167.95L47.37 163.23L24.65 163.23L24.65 167.95M24.65 163.90L47.37 163.90" fill="none" stroke="#000" stroke-width="1.65" stroke-linejoin="round" stroke-linecap="butt"/>
<clipPath id="c2"><rect x="129.2" y="710.2" width="662.0" height="458.5"/></clipPath>
<g clip-path="url(#c2)" fill="none" stroke-linejoin="round">
<polyline points="187.5,790.8 283.1,779.6 327.6,778.9 356.9,786.4 378.7,803.8 396.2,802.5 410.7,784.6 423.2,798.8 434.1,799.9 443.8,802.9 452.5,807.0 460.4,804.0 467.7,813.0 474.4,814.6 480.6,815.9 486.4,824.0 491.8,824.2 497.0,829.0 501.8,830.5 506.4,831.7 510.7,831.4 512.0,831.7 514.9,836.9 518.8,840.1 522.6,843.1 526.3,846.6 529.7,849.5 531.4,844.4 532.8,850.5 536.3,849.5 539.4,850.5 542.4,851.5 543.9,849.1 545.3,854.5 548.1,861.8 550.9,863.7 553.5,854.5 554.8,851.6 556.1,853.5 558.5,851.5 561.0,852.5 563.3,852.0 565.4,854.4 565.8,853.5 567.8,855.0 570.0,857.5 572.1,860.5 573.2,862.2 581.1,863.6 588.4,863.6 595.1,867.1 601.3,869.6 607.1,872.3 612.5,876.0 639.5,887.1 660.9,896.2 678.0,912.5 692.3,922.0 704.6,926.5 715.3,937.8 724.9,940.6 733.5,942.9 741.4,946.8 748.6,949.8 755.2,952.8 761.4,954.1 767.2,955.5 772.6,956.8 777.7,956.1 782.5,961.4 787.0,963.4 791.4,965.6" stroke="#000" stroke-width="2"/>
<path d="M187.5 783.8V798.6M183.5 783.8h8M183.5 798.6h8M283.1 776.4V782.9M279.1 776.4h8M279.1 782.9h8M327.6 776.2V781.8M323.6 776.2h8M323.6 781.8h8M356.9 784.3V788.6M352.9 784.3h8M352.9 788.6h8M378.7 801.7V805.9M374.7 801.7h8M374.7 805.9h8M396.2 799.9V805.2M392.2 799.9h8M392.2 805.2h8M410.7 782.5V786.7M406.7 782.5h8M406.7 786.7h8M423.2 796.8V801.0M419.2 796.8h8M419.2 801.0h8M434.1 797.7V802.1M430.1 797.7h8M430.1 802.1h8M443.8 800.8V805.1M439.8 800.8h8M439.8 805.1h8M452.5 804.0V810.1M448.5 804.0h8M448.5 810.1h8M460.4 801.7V806.5M456.4 801.7h8M456.4 806.5h8M467.7 810.7V815.3M463.7 810.7h8M463.7 815.3h8M474.4 812.2V817.2M470.4 812.2h8M470.4 817.2h8M480.6 813.3V818.5M476.6 813.3h8M476.6 818.5h8M486.4 821.5V826.7M482.4 821.5h8M482.4 826.7h8M491.8 818.7V830.3M487.8 818.7h8M487.8 830.3h8M497.0 826.5V831.7M493.0 826.5h8M493.0 831.7h8M501.8 827.9V833.3M497.8 827.9h8M497.8 833.3h8M506.4 829.0V834.4M502.4 829.0h8M502.4 834.4h8M510.7 822.3V842.3M506.7 822.3h8M506.7 842.3h8M512.0 827.3V836.4M508.0 827.3h8M508.0 836.4h8M514.9 834.5V839.4M510.9 834.5h8M510.9 839.4h8M518.8 837.5V842.7M514.8 837.5h8M514.8 842.7h8M522.6 840.4V845.9M518.6 840.4h8M518.6 845.9h8M526.3 843.7V849.5M522.3 843.7h8M522.3 849.5h8M529.7 846.6V852.7M525.7 846.6h8M525.7 852.7h8M531.4 833.6V857.6M527.4 833.6h8M527.4 857.6h8M532.8 840.3V862.7M528.8 840.3h8M528.8 862.7h8M536.3 846.6V852.7M532.3 846.6h8M532.3 852.7h8M539.4 847.5V853.7M535.4 847.5h8M535.4 853.7h8M542.4 848.5V854.8M538.4 848.5h8M538.4 854.8h8M543.9 840.7V858.9M539.9 840.7h8M539.9 858.9h8M545.3 851.3V857.9M541.3 851.3h8M541.3 857.9h8M548.1 858.2V865.6M544.1 858.2h8M544.1 865.6h8M550.9 860.0V867.7M546.9 860.0h8M546.9 867.7h8M553.5 851.3V857.9M549.5 851.3h8M549.5 857.9h8M554.8 843.2V861.2M550.8 843.2h8M550.8 861.2h8M556.1 850.7V856.5M552.1 850.7h8M552.1 856.5h8M558.5 848.8V854.4M554.5 848.8h8M554.5 854.4h8M561.0 849.7V855.5M557.0 849.7h8M557.0 855.5h8M563.3 849.3V855.0M559.3 849.3h8M559.3 855.0h8M565.4 845.6V864.9M561.4 845.6h8M561.4 864.9h8M565.8 850.7V856.5M561.8 850.7h8M561.8 856.5h8M567.8 852.1V858.1M563.8 852.1h8M563.8 858.1h8M570.0 854.5V860.7M566.0 854.5h8M566.0 860.7h8M572.1 857.3V863.9M568.1 857.3h8M568.1 863.9h8M573.2 853.8V871.9M569.2 853.8h8M569.2 871.9h8M581.1 860.7V866.7M577.1 860.7h8M577.1 866.7h8M588.4 860.7V866.7M584.4 860.7h8M584.4 866.7h8M595.1 863.6V870.9M591.1 863.6h8M591.1 870.9h8M601.3 866.0V873.5M597.3 866.0h8M597.3 873.5h8M607.1 868.2V876.7M603.1 868.2h8M603.1 876.7h8M612.5 871.3V881.2M608.5 871.3h8M608.5 881.2h8M639.5 884.5V889.8M635.5 884.5h8M635.5 889.8h8M660.9 893.6V898.9M656.9 893.6h8M656.9 898.9h8M678.0 909.9V915.2M674.0 909.9h8M674.0 915.2h8M692.3 919.4V924.7M688.3 919.4h8M688.3 924.7h8M704.6 923.9V929.2M700.6 923.9h8M700.6 929.2h8M715.3 935.2V940.5M711.3 935.2h8M711.3 940.5h8M724.9 938.1V943.4M720.9 938.1h8M720.9 943.4h8M733.5 940.3V945.7M729.5 940.3h8M729.5 945.7h8M741.4 944.2V949.6M737.4 944.2h8M737.4 949.6h8M748.6 947.2V952.6M744.6 947.2h8M744.6 952.6h8M755.2 950.2V955.5M751.2 950.2h8M751.2 955.5h8M761.4 951.5V956.8M757.4 951.5h8M757.4 956.8h8M767.2 952.9V958.2M763.2 952.9h8M763.2 958.2h8M772.6 954.2V959.5M768.6 954.2h8M768.6 959.5h8M777.7 953.5V958.8M773.7 953.5h8M773.7 958.8h8M782.5 958.8V964.1M778.5 958.8h8M778.5 964.1h8M787.0 960.8V966.1M783.0 960.8h8M783.0 966.1h8" stroke="#000" stroke-width="1.9" fill="none"/>
<polyline points="187.5,796.5 283.1,784.3 327.6,783.6 356.9,791.7 378.7,810.9 396.2,809.5 410.7,789.7 423.2,805.4 434.1,806.6 443.8,809.9 452.5,814.5 460.4,811.2 467.7,821.3 474.4,823.2 480.6,824.6 486.4,834.2 491.8,834.4 497.0,840.1 501.8,841.9 506.4,843.2 510.7,842.9 512.0,843.2 514.9,849.6 518.8,853.5 522.6,857.3 526.3,861.7 529.7,865.5 531.4,859.0 532.8,866.7 536.3,865.5 539.4,866.8 542.4,868.1 543.9,864.9 545.3,872.0 548.1,881.9 550.9,884.5 553.5,872.0 554.8,868.0 556.1,870.6 558.5,868.0 561.0,869.2 563.3,868.6 565.4,871.7 565.8,870.5 567.8,872.5 570.0,875.8 572.1,879.9 573.2,882.2 581.1,884.1 588.4,884.0 595.1,888.8 601.3,892.3 607.1,896.1 612.5,901.6 639.5,918.5 660.9,933.4 678.0,965.9 692.3,987.6 704.6,998.4 715.3,1039.6 724.9,1048.0 733.5,1055.0 741.4,1080.9 748.6,1089.3 755.2,1112.8 761.4,1115.0 767.2,1122.3 772.6,1129.2 777.7,1092.3 782.5,1248.1 787.0,1138.5 791.4,1146.6" stroke="#1e90ff" stroke-width="2"/>
<path d="M187.5 788.8V805.3M183.5 788.8h8M183.5 805.3h8M283.1 780.1V788.8M279.1 780.1h8M279.1 788.8h8M327.6 780.3V787.1M323.6 780.3h8M323.6 787.1h8M356.9 788.4V795.3M352.9 788.4h8M352.9 795.3h8M378.7 807.4V814.7M374.7 807.4h8M374.7 814.7h8M396.2 806.4V812.7M392.2 806.4h8M392.2 812.7h8M410.7 786.6V792.9M406.7 786.6h8M406.7 792.9h8M423.2 802.2V808.8M419.2 802.2h8M419.2 808.8h8M434.1 803.2V810.1M430.1 803.2h8M430.1 810.1h8M443.8 806.6V813.4M439.8 806.6h8M439.8 813.4h8M452.5 809.9V819.5M448.5 809.9h8M448.5 819.5h8M460.4 807.5V815.1M456.4 807.5h8M456.4 815.1h8M467.7 817.7V825.2M463.7 817.7h8M463.7 825.2h8M474.4 819.4V827.3M470.4 819.4h8M470.4 827.3h8M480.6 820.5V829.0M476.6 820.5h8M476.6 829.0h8M486.4 830.0V838.6M482.4 830.0h8M482.4 838.6h8M491.8 827.9V841.6M487.8 827.9h8M487.8 841.6h8M497.0 835.8V844.6M493.0 835.8h8M493.0 844.6h8M501.8 837.5V846.6M497.8 837.5h8M497.8 846.6h8M506.4 838.8V848.0M502.4 838.8h8M502.4 848.0h8M510.7 832.0V856.3M506.7 832.0h8M506.7 856.3h8M512.0 838.0V848.9M508.0 838.0h8M508.0 848.9h8M514.9 846.6V852.7M510.9 846.6h8M510.9 852.7h8M518.8 850.3V856.8M514.8 850.3h8M514.8 856.8h8M522.6 853.9V860.8M518.6 853.9h8M518.6 860.8h8M526.3 858.1V865.5M522.3 858.1h8M522.3 865.5h8M529.7 861.7V869.6M525.7 861.7h8M525.7 869.6h8M531.4 845.5V876.3M527.4 845.5h8M527.4 876.3h8M532.8 853.7V883.4M528.8 853.7h8M528.8 883.4h8M536.3 861.7V869.6M532.3 861.7h8M532.3 869.6h8M539.4 862.9V871.0M535.4 862.9h8M535.4 871.0h8M542.4 864.1V872.4M538.4 864.1h8M538.4 872.4h8M543.9 854.1V877.9M539.9 854.1h8M539.9 877.9h8M545.3 867.8V876.6M541.3 867.8h8M541.3 876.6h8M548.1 876.9V887.3M544.1 876.9h8M544.1 887.3h8M550.9 879.3V890.2M546.9 879.3h8M546.9 890.2h8M553.5 867.7V876.5M549.5 867.7h8M549.5 876.5h8M554.8 857.2V881.1M550.8 857.2h8M550.8 881.1h8M556.1 866.8V874.6M552.1 866.8h8M552.1 874.6h8M558.5 864.3V871.8M554.5 864.3h8M554.5 871.8h8M561.0 865.6V873.2M557.0 865.6h8M557.0 873.2h8M563.3 864.9V872.4M559.3 864.9h8M559.3 872.4h8M565.4 860.2V886.0M561.4 860.2h8M561.4 886.0h8M565.8 866.8V874.5M561.8 866.8h8M561.8 874.5h8M567.8 868.6V876.6M563.8 868.6h8M563.8 876.6h8M570.0 871.7V880.2M566.0 871.7h8M566.0 880.2h8M572.1 875.5V884.6M568.1 875.5h8M568.1 884.6h8M573.2 870.8V896.2M569.2 870.8h8M569.2 896.2h8M581.1 880.1V888.4M577.1 880.1h8M577.1 888.4h8M588.4 880.0V888.3M584.4 880.0h8M584.4 888.3h8M595.1 883.8V894.3M591.1 883.8h8M591.1 894.3h8M601.3 887.1V898.1M597.3 887.1h8M597.3 898.1h8M607.1 890.1V902.8M603.1 890.1h8M603.1 902.8h8M612.5 894.5V909.7M608.5 894.5h8M608.5 909.7h8M639.5 914.2V923.1M635.5 914.2h8M635.5 923.1h8M660.9 928.6V938.5M656.9 928.6h8M656.9 938.5h8M678.0 959.8V972.7M674.0 959.8h8M674.0 972.7h8M692.3 980.2V996.0M688.3 980.2h8M688.3 996.0h8M704.6 990.2V1007.8M700.6 990.2h8M700.6 1007.8h8M715.3 1026.8V1056.1M711.3 1026.8h8M711.3 1056.1h8M724.9 1034.0V1066.3M720.9 1034.0h8M720.9 1066.3h8M733.5 1040.0V1075.0M729.5 1040.0h8M729.5 1075.0h8M741.4 1060.3V1112.3M737.4 1060.3h8M737.4 1112.3h8M748.6 1067.1V1124.7M744.6 1067.1h8M744.6 1124.7h8M755.2 1083.5V1171.7M751.2 1083.5h8M751.2 1171.7h8M761.4 1085.4V1175.4M757.4 1085.4h8M757.4 1175.4h8M767.2 1090.3V1194.4M763.2 1090.3h8M763.2 1194.4h8M772.6 1094.9V1217.1M768.6 1094.9h8M768.6 1217.1h8M777.7 1071.1V1125.2M773.7 1071.1h8M773.7 1125.2h8M782.5 1137.9V1328.0M778.5 1137.9h8M778.5 1328.0h8M787.0 1103.0V1236.2M783.0 1103.0h8M783.0 1236.2h8" stroke="#1e90ff" stroke-width="1.9" fill="none"/>
<polyline points="187.5,935.5 192.5,935.5 197.5,935.5 202.6,935.5 207.6,935.5 212.6,935.5 217.7,935.5 222.7,935.5 227.7,935.5 232.8,935.5 237.8,935.5 242.8,935.5 247.9,935.5 252.9,935.5 257.9,935.5 262.9,935.6 268.0,935.6 273.0,935.6 278.0,935.6 283.1,935.6 288.1,935.6 293.1,935.6 298.2,935.6 303.2,935.6 308.2,935.6 313.3,935.6 318.3,935.7 323.3,935.7 328.4,935.7 333.4,935.7 338.4,935.7 343.5,935.7 348.5,935.7 353.5,935.8 358.6,935.8 363.6,935.8 368.6,935.8 373.7,935.8 378.7,935.8 383.7,935.9 388.8,935.9 393.8,935.9 398.8,935.9 403.9,936.0 408.9,936.0 413.9,936.0 419.0,936.1 424.0,936.1 429.0,936.1 434.1,936.2 439.1,936.2 444.1,936.3 449.2,936.3 454.2,936.3 459.2,936.4 464.3,936.4 469.3,936.5 474.3,936.6 479.4,936.6 484.4,936.7 489.4,936.7 494.5,936.8 499.5,936.9 504.5,937.0 509.6,937.0 514.6,937.1 519.6,937.2 524.6,937.3 529.7,937.4 534.7,937.5 539.7,937.6 544.8,937.8 549.8,937.9 554.8,938.0 559.9,938.1 564.9,938.3 569.9,938.4 575.0,938.6 580.0,938.8 585.0,939.0 590.1,939.1 595.1,939.3 600.1,939.6 605.2,939.8 610.2,940.0 615.2,940.3 620.3,940.5 625.3,940.8 630.3,941.1 635.4,941.4 640.4,941.7 645.4,942.0 650.5,942.4 655.5,942.7 660.5,943.1 665.6,943.5 670.6,944.0 675.6,944.4 680.7,944.9 685.7,945.4 690.7,946.0 695.8,946.5 700.8,947.1 705.8,947.7 710.9,948.4 715.9,949.1 720.9,949.8 726.0,950.6 731.0,951.4 736.0,952.2 741.1,953.1 746.1,954.1 751.1,955.1 756.2,956.1 761.2,957.2 766.2,958.4 771.3,959.6 776.3,960.9 781.3,962.3 786.3,963.7 791.4,965.2" stroke="#ffa500" stroke-width="1.8" stroke-dasharray="8.3 8.3"/>
<polyline points="225.3,709.7 227.1,710.6 325.0,758.4 392.4,788.8 440.0,810.0 455.0,818.0 515.0,848.7 560.0,875.0 584.1,889.5 608.2,904.6 612.5,907.4 639.5,928.0 660.9,945.7 678.0,963.0 692.3,981.8 704.6,1001.9 715.4,1023.4 724.9,1040.9 733.6,1057.3 741.4,1074.3 748.6,1089.8 755.3,1103.3 761.4,1115.8 767.2,1127.2 772.6,1137.7 777.7,1147.7 782.5,1156.7 787.1,1164.7 791.4,1171.7" stroke="#ff0000" stroke-width="1.8"/>
</g>
<rect x="129.2" y="710.2" width="662.0" height="458.5" fill="none" stroke="#000" stroke-width="1.9" stroke-linejoin="round"/>
<path d="M143.0 1168.7v-4.5M168.0 1168.7v-4.5M187.5 1168.7v-4.5M203.3 1168.7v-4.5M216.7 1168.7v-4.5M228.4 1168.7v-4.5M238.6 1168.7v-4.5M247.8 1168.7v-9.0M308.1 1168.7v-4.5M343.4 1168.7v-4.5M368.5 1168.7v-4.5M387.9 1168.7v-4.5M403.8 1168.7v-4.5M417.2 1168.7v-4.5M428.8 1168.7v-4.5M439.1 1168.7v-4.5M448.2 1168.7v-9.0M508.6 1168.7v-4.5M543.9 1168.7v-4.5M568.9 1168.7v-4.5M588.4 1168.7v-4.5M604.2 1168.7v-4.5M617.6 1168.7v-4.5M629.3 1168.7v-4.5M639.5 1168.7v-4.5M648.7 1168.7v-9.0M709.0 1168.7v-4.5M744.3 1168.7v-4.5M769.4 1168.7v-4.5M788.8 1168.7v-4.5M189.5 710.2v4.5M224.8 710.2v4.5M249.9 710.2v4.5M269.3 710.2v4.5M285.2 710.2v4.5M298.6 710.2v4.5M310.2 710.2v4.5M320.5 710.2v4.5M329.6 710.2v9.0M390.0 710.2v4.5M425.3 710.2v4.5M450.3 710.2v4.5M469.8 710.2v4.5M485.6 710.2v4.5M499.0 710.2v4.5M510.7 710.2v4.5M520.9 710.2v4.5M530.1 710.2v9.0M590.4 710.2v4.5M625.7 710.2v4.5M650.8 710.2v4.5M670.2 710.2v4.5M686.1 710.2v4.5M699.5 710.2v4.5M711.1 710.2v4.5M721.4 710.2v4.5M730.5 710.2v9.0M129.2 1126.9h6.5M791.2 1126.9h-6.5M129.2 1102.4h6.5M791.2 1102.4h-6.5M129.2 1085.1h6.5M791.2 1085.1h-6.5M129.2 1071.6h6.5M791.2 1071.6h-6.5M129.2 1060.6h6.5M791.2 1060.6h-6.5M129.2 1051.3h6.5M791.2 1051.3h-6.5M129.2 1043.3h6.5M791.2 1043.3h-6.5M129.2 1036.2h6.5M791.2 1036.2h-6.5M129.2 1029.8h13.0M791.2 1029.8h-13.0M129.2 988.0h6.5M791.2 988.0h-6.5M129.2 963.5h6.5M791.2 963.5h-6.5M129.2 946.2h6.5M791.2 946.2h-6.5M129.2 932.7h6.5M791.2 932.7h-6.5M129.2 921.7h6.5M791.2 921.7h-6.5M129.2 912.4h6.5M791.2 912.4h-6.5M129.2 904.4h6.5M791.2 904.4h-6.5M129.2 897.3h6.5M791.2 897.3h-6.5M129.2 890.9h13.0M791.2 890.9h-13.0M129.2 849.1h6.5M791.2 849.1h-6.5M129.2 824.6h6.5M791.2 824.6h-6.5M129.2 807.3h6.5M791.2 807.3h-6.5M129.2 793.8h6.5M791.2 793.8h-6.5M129.2 782.8h6.5M791.2 782.8h-6.5M129.2 773.5h6.5M791.2 773.5h-6.5M129.2 765.5h6.5M791.2 765.5h-6.5M129.2 758.4h6.5M791.2 758.4h-6.5M129.2 752.0h13.0M791.2 752.0h-13.0" stroke="#000" stroke-width="1.7" fill="none"/>
<path d="M327.18 672.04L327.18 677.72L325.82 679.14L324.46 679.85L322.42 679.85L321.06 679.14L319.70 677.72L319.02 675.59L319.02 674.17L319.70 672.04L321.06 670.62L322.42 669.91L324.46 669.91L325.82 670.62L327.18 672.04L327.18 664.94M327.18 677.72L327.18 679.85M332.62 679.85L332.62 669.91M332.62 664.23L333.30 664.94L332.62 665.65L331.94 664.94L332.62 664.23M337.38 677.72L338.06 679.14L340.10 679.85L342.14 679.85L344.18 679.14L344.86 677.72L344.86 677.01L344.18 675.59L342.82 674.88L339.42 674.17L338.06 673.46L337.38 672.04L338.06 670.62L340.10 669.91L342.14 669.91L344.18 670.62L344.86 672.04M348.26 669.91L350.30 669.91L350.30 664.94M353.70 679.85L352.34 679.85L350.98 679.14L350.30 677.01L350.30 669.91L353.02 669.91M365.26 672.04L365.26 677.72L363.90 679.14L362.54 679.85L360.50 679.85L359.14 679.14L357.78 677.72L357.10 675.59L357.10 674.17L357.78 672.04L359.14 670.62L360.50 669.91L362.54 669.91L363.90 670.62L365.26 672.04L365.26 669.91M365.26 677.72L365.26 679.85M378.17 679.85L378.17 672.75L377.49 670.62L376.13 669.91L374.09 669.91L372.73 670.62L370.69 672.75L370.69 669.91M370.69 672.75L370.69 679.85M391.09 677.72L389.73 679.14L388.37 679.85L386.33 679.85L384.97 679.14L383.61 677.72L382.93 675.59L382.93 674.17L383.61 672.04L384.97 670.62L386.33 669.91L388.37 669.91L389.73 670.62L391.09 672.04M395.17 674.17L403.33 674.17L403.33 672.75L402.65 671.33L401.97 670.62L400.61 669.91L398.57 669.91L397.21 670.62L395.85 672.04L395.17 674.17L395.17 675.59L395.85 677.72L397.21 679.14L398.57 679.85L400.61 679.85L401.97 679.14L403.33 677.72M417.60 669.91L419.64 669.91L419.64 667.78L420.32 665.65L421.68 664.94L423.04 664.94M419.64 679.85L419.64 669.91L422.36 669.91M432.56 669.91L430.52 669.91L429.16 670.62L427.80 672.04L427.12 674.17L427.12 669.91M427.12 674.17L427.12 679.85M438.68 669.91L437.32 670.62L435.96 672.04L435.28 674.17L435.28 675.59L435.96 677.72L437.32 679.14L438.68 679.85L440.72 679.85L442.08 679.14L443.44 677.72L444.12 675.59L444.12 674.17L443.44 672.04L442.08 670.62L440.72 669.91L438.68 669.91M463.83 679.85L463.83 672.75L463.15 670.62L461.79 669.91L459.75 669.91L458.40 670.62L456.36 672.75L455.68 670.62L454.32 669.91L452.28 669.91L450.92 670.62L448.88 672.75L448.88 669.91M448.88 672.75L448.88 679.85M456.36 672.75L456.36 679.85M479.47 677.72L480.83 679.14L482.87 679.85L485.59 679.85L487.63 679.14L488.99 677.72L488.99 675.59L488.31 674.17L487.63 673.46L486.27 672.75L482.19 671.33L480.83 670.62L480.15 669.91L479.47 668.49L479.47 667.07L480.83 665.65L482.87 664.94L485.59 664.94L487.63 665.65L488.99 667.07M501.23 672.04L501.23 677.72L499.87 679.14L498.51 679.85L496.47 679.85L495.11 679.14L493.75 677.72L493.07 675.59L493.07 674.17L493.75 672.04L495.11 670.62L496.47 669.91L498.51 669.91L499.87 670.62L501.23 672.04L501.23 669.91M501.23 677.72L501.23 681.27L500.55 683.40L499.87 684.11L498.51 684.82L496.47 684.82L495.11 684.11M512.10 669.91L510.06 669.91L508.70 670.62L507.34 672.04L506.66 674.17L506.66 669.91M506.66 674.17L506.66 679.85M535.22 679.85L529.78 664.94L524.34 679.85M533.18 674.88L526.38 674.88M537.94 671.33L541.34 673.46L541.34 669.20M541.34 677.72L541.34 673.46L544.74 671.33M544.74 675.59L541.34 673.46L537.94 675.59M565.13 684.82L560.37 684.82L560.37 662.10L565.13 662.10M561.05 662.10L561.05 684.82M569.89 672.04L569.89 677.72L571.25 679.14L572.61 679.85L574.65 679.85L576.01 679.14L577.37 677.72L578.05 675.59L578.05 674.17L577.37 672.04L576.01 670.62L574.65 669.91L572.61 669.91L571.25 670.62L569.89 672.04L569.89 669.91M569.89 677.72L569.89 684.82M590.29 677.72L588.93 679.14L587.57 679.85L585.53 679.85L584.17 679.14L582.81 677.72L582.13 675.59L582.13 674.17L582.81 672.04L584.17 670.62L585.53 669.91L587.57 669.91L588.93 670.62L590.29 672.04M594.37 684.82L599.13 684.82L599.13 662.10L594.37 662.10M598.45 662.10L598.45 684.82M111.39 685.44L109.26 686.15L107.84 688.28L107.12 691.83L107.12 693.96L107.84 697.51L109.26 699.64L111.39 700.35L112.81 700.35L114.95 699.64L116.37 697.51L117.08 693.96L117.08 691.83L116.37 688.28L114.95 686.15L112.81 685.44L111.39 685.44M122.77 698.93L123.48 699.64L122.77 700.35L122.06 699.64L122.77 698.93M132.73 685.44L130.59 686.15L129.17 688.28L128.46 691.83L128.46 693.96L129.17 697.51L130.59 699.64L132.73 700.35L134.15 700.35L136.28 699.64L137.71 697.51L138.42 693.96L138.42 691.83L137.71 688.28L136.28 686.15L134.15 685.44L132.73 685.44M148.37 700.35L148.37 685.44L146.24 687.57L144.82 688.28M310.83 685.44L308.73 686.15L307.33 688.28L306.62 691.83L306.62 693.96L307.33 697.51L308.73 699.64L310.83 700.35L312.24 700.35L314.34 699.64L315.75 697.51L316.45 693.96L316.45 691.83L315.75 688.28L314.34 686.15L312.24 685.44L310.83 685.44M322.06 698.93L322.76 699.64L322.06 700.35L321.36 699.64L322.06 698.93M333.28 700.35L333.28 685.44L331.18 687.57L329.78 688.28M345.91 685.44L343.81 686.15L342.40 688.28L341.70 691.83L341.70 693.96L342.40 697.51L343.81 699.64L345.91 700.35L347.32 700.35L349.42 699.64L350.82 697.51L351.52 693.96L351.52 691.83L350.82 688.28L349.42 686.15L347.32 685.44L345.91 685.44M512.84 700.35L512.84 685.44L510.77 687.57L509.39 688.28M522.50 698.93L523.19 699.64L522.50 700.35L521.81 699.64L522.50 698.93M532.16 685.44L530.09 686.15L528.71 688.28L528.02 691.83L528.02 693.96L528.71 697.51L530.09 699.64L532.16 700.35L533.54 700.35L535.61 699.64L536.99 697.51L537.68 693.96L537.68 691.83L536.99 688.28L535.61 686.15L533.54 685.44L532.16 685.44M545.96 685.44L543.89 686.15L542.51 688.28L541.82 691.83L541.82 693.96L542.51 697.51L543.89 699.64L545.96 700.35L547.34 700.35L549.41 699.64L550.79 697.51L551.48 693.96L551.48 691.83L550.79 688.28L549.41 686.15L547.34 685.44L545.96 685.44M706.95 700.35L706.95 685.44L704.89 687.57L703.53 688.28M719.27 685.44L717.22 686.15L715.85 688.28L715.16 691.83L715.16 693.96L715.85 697.51L717.22 699.64L719.27 700.35L720.64 700.35L722.69 699.64L724.06 697.51L724.75 693.96L724.75 691.83L724.06 688.28L722.69 686.15L720.64 685.44L719.27 685.44M730.22 698.93L730.91 699.64L730.22 700.35L729.54 699.64L730.22 698.93M739.81 685.44L737.75 686.15L736.38 688.28L735.70 691.83L735.70 693.96L736.38 697.51L737.75 699.64L739.81 700.35L741.18 700.35L743.23 699.64L744.60 697.51L745.28 693.96L745.28 691.83L744.60 688.28L743.23 686.15L741.18 685.44L739.81 685.44M753.50 685.44L751.44 686.15L750.08 688.28L749.39 691.83L749.39 693.96L750.08 697.51L751.44 699.64L753.50 700.35L754.87 700.35L756.92 699.64L758.29 697.51L758.97 693.96L758.97 691.83L758.29 688.28L756.92 686.15L754.87 685.44L753.50 685.44M248.49 1199.75L248.49 1184.84L246.42 1186.97L245.04 1187.68M441.72 1199.75L441.72 1184.84L439.68 1186.97L438.32 1187.68M453.94 1184.84L451.91 1185.55L450.55 1187.68L449.87 1191.23L449.87 1193.36L450.55 1196.91L451.91 1199.04L453.94 1199.75L455.30 1199.75L457.34 1199.04L458.70 1196.91L459.38 1193.36L459.38 1191.23L458.70 1187.68L457.34 1185.55L455.30 1184.84L453.94 1184.84M635.06 1199.75L635.06 1184.84L633.00 1186.97L631.62 1187.68M647.43 1184.84L645.37 1185.55L644.00 1187.68L643.31 1191.23L643.31 1193.36L644.00 1196.91L645.37 1199.04L647.43 1199.75L648.81 1199.75L650.87 1199.04L652.24 1196.91L652.93 1193.36L652.93 1191.23L652.24 1187.68L650.87 1185.55L648.81 1184.84L647.43 1184.84M661.18 1184.84L659.12 1185.55L657.74 1187.68L657.05 1191.23L657.05 1193.36L657.74 1196.91L659.12 1199.04L661.18 1199.75L662.55 1199.75L664.61 1199.04L665.99 1196.91L666.68 1193.36L666.68 1191.23L665.99 1187.68L664.61 1185.55L662.55 1184.84L661.18 1184.84M409.10 1217.74L410.47 1217.74L412.52 1217.03L413.20 1216.32L413.88 1214.90L413.88 1213.48L413.20 1212.06L412.52 1211.35L410.47 1210.64L404.32 1210.64L404.32 1217.74L409.10 1217.74L413.88 1225.55M404.32 1217.74L404.32 1225.55M434.37 1230.52L429.59 1230.52L429.59 1207.80L434.37 1207.80M430.27 1207.80L430.27 1230.52M446.66 1217.74L446.66 1223.42L445.29 1224.84L443.93 1225.55L441.88 1225.55L440.51 1224.84L439.15 1223.42L438.47 1221.29L438.47 1219.87L439.15 1217.74L440.51 1216.32L441.88 1215.61L443.93 1215.61L445.29 1216.32L446.66 1217.74L446.66 1215.61M446.66 1223.42L446.66 1225.55M457.58 1215.61L455.54 1215.61L454.17 1216.32L452.80 1217.74L452.12 1219.87L452.12 1215.61M452.12 1219.87L452.12 1225.55M468.51 1223.42L467.14 1224.84L465.78 1225.55L463.73 1225.55L462.36 1224.84L461.00 1223.42L460.32 1221.29L460.32 1219.87L461.00 1217.74L462.36 1216.32L463.73 1215.61L465.78 1215.61L467.14 1216.32L468.51 1217.74M472.61 1223.42L473.29 1224.84L475.34 1225.55L477.39 1225.55L479.43 1224.84L480.12 1223.42L480.12 1222.71L479.43 1221.29L478.07 1220.58L474.65 1219.87L473.29 1219.16L472.61 1217.74L473.29 1216.32L475.34 1215.61L477.39 1215.61L479.43 1216.32L480.12 1217.74M484.21 1219.87L492.41 1219.87L492.41 1218.45L491.72 1217.03L491.04 1216.32L489.68 1215.61L487.63 1215.61L486.26 1216.32L484.90 1217.74L484.21 1219.87L484.21 1221.29L484.90 1223.42L486.26 1224.84L487.63 1225.55L489.68 1225.55L491.04 1224.84L492.41 1223.42M504.70 1223.42L503.33 1224.84L501.97 1225.55L499.92 1225.55L498.55 1224.84L497.19 1223.42L496.50 1221.29L496.50 1219.87L497.19 1217.74L498.55 1216.32L499.92 1215.61L501.97 1215.61L503.33 1216.32L504.70 1217.74M508.80 1230.52L513.57 1230.52L513.57 1207.80L508.80 1207.80M512.89 1207.80L512.89 1230.52M68.17 760.25L68.17 745.34L66.10 747.47L64.72 748.18M80.56 745.34L78.49 746.05L77.11 748.18L76.43 751.73L76.43 753.86L77.11 757.41L78.49 759.54L80.56 760.25L81.93 760.25L84.00 759.54L85.37 757.41L86.06 753.86L86.06 751.73L85.37 748.18L84.00 746.05L81.93 745.34L80.56 745.34M91.57 758.83L92.26 759.54L91.57 760.25L90.88 759.54L91.57 758.83M101.20 745.34L99.14 746.05L97.76 748.18L97.07 751.73L97.07 753.86L97.76 757.41L99.14 759.54L101.20 760.25L102.58 760.25L104.64 759.54L106.02 757.41L106.71 753.86L106.71 751.73L106.02 748.18L104.64 746.05L102.58 745.34L101.20 745.34M114.97 745.34L112.90 746.05L111.53 748.18L110.84 751.73L110.84 753.86L111.53 757.41L112.90 759.54L114.97 760.25L116.35 760.25L118.41 759.54L119.79 757.41L120.47 753.86L120.47 751.73L119.79 748.18L118.41 746.05L116.35 745.34L114.97 745.34M81.70 899.30L81.70 884.39L79.61 886.52L78.22 887.23M91.43 897.88L92.12 898.59L91.43 899.30L90.73 898.59L91.43 897.88M101.16 884.39L99.07 885.10L97.68 887.23L96.99 890.78L96.99 892.91L97.68 896.46L99.07 898.59L101.16 899.30L102.55 899.30L104.63 898.59L106.02 896.46L106.72 892.91L106.72 890.78L106.02 887.23L104.63 885.10L102.55 884.39L101.16 884.39M115.06 884.39L112.97 885.10L111.58 887.23L110.89 890.78L110.89 892.91L111.58 896.46L112.97 898.59L115.06 899.30L116.45 899.30L118.53 898.59L119.92 896.46L120.62 892.91L120.62 890.78L119.92 887.23L118.53 885.10L116.45 884.39L115.06 884.39M80.31 1023.44L78.22 1024.15L76.83 1026.28L76.14 1029.83L76.14 1031.96L76.83 1035.51L78.22 1037.64L80.31 1038.35L81.70 1038.35L83.78 1037.64L85.17 1035.51L85.87 1031.96L85.87 1029.83L85.17 1026.28L83.78 1024.15L81.70 1023.44L80.31 1023.44M91.43 1036.93L92.12 1037.64L91.43 1038.35L90.73 1037.64L91.43 1036.93M102.55 1038.35L102.55 1023.44L100.46 1025.57L99.07 1026.28M115.06 1023.44L112.97 1024.15L111.58 1026.28L110.89 1029.83L110.89 1031.96L111.58 1035.51L112.97 1037.64L115.06 1038.35L116.45 1038.35L118.53 1037.64L119.92 1035.51L120.62 1031.96L120.62 1029.83L119.92 1026.28L118.53 1024.15L116.45 1023.44L115.06 1023.44M79.74 1154.34L77.61 1155.05L76.19 1157.18L75.48 1160.73L75.48 1162.86L76.19 1166.41L77.61 1168.54L79.74 1169.25L81.16 1169.25L83.29 1168.54L84.71 1166.41L85.42 1162.86L85.42 1160.73L84.71 1157.18L83.29 1155.05L81.16 1154.34L79.74 1154.34M91.10 1167.83L91.81 1168.54L91.10 1169.25L90.39 1168.54L91.10 1167.83M101.05 1154.34L98.92 1155.05L97.50 1157.18L96.79 1160.73L96.79 1162.86L97.50 1166.41L98.92 1168.54L101.05 1169.25L102.47 1169.25L104.60 1168.54L106.02 1166.41L106.73 1162.86L106.73 1160.73L106.02 1157.18L104.60 1155.05L102.47 1154.34L101.05 1154.34M116.68 1169.25L116.68 1154.34L114.54 1156.47L113.12 1157.18M40.27 1089.02L41.69 1087.67L42.40 1085.65L42.40 1082.94L41.69 1080.92L40.27 1079.57L38.14 1079.57L36.72 1080.24L36.01 1080.92L35.30 1082.27L33.88 1086.32L33.17 1087.67L32.46 1088.35L31.04 1089.02L29.62 1089.02L28.20 1087.67L27.49 1085.65L27.49 1082.94L28.20 1080.92L29.62 1079.57M32.46 1076.19L32.46 1074.16L27.49 1074.16M42.40 1070.78L42.40 1072.14L41.69 1073.49L39.56 1074.16L32.46 1074.16L32.46 1071.46M36.72 1067.41L36.72 1059.30L35.30 1059.30L33.88 1059.98L33.17 1060.65L32.46 1062.00L32.46 1064.03L33.17 1065.38L34.59 1066.73L36.72 1067.41L38.14 1067.41L40.27 1066.73L41.69 1065.38L42.40 1064.03L42.40 1062.00L41.69 1060.65L40.27 1059.30M42.40 1054.57L27.49 1054.57M42.40 1049.17L27.49 1049.17M34.59 1036.33L40.27 1036.33L41.69 1037.68L42.40 1039.03L42.40 1041.06L41.69 1042.41L40.27 1043.76L38.14 1044.44L36.72 1044.44L34.59 1043.76L33.17 1042.41L32.46 1041.06L32.46 1039.03L33.17 1037.68L34.59 1036.33L32.46 1036.33M40.27 1036.33L42.40 1036.33M32.46 1025.52L32.46 1027.55L33.17 1028.90L34.59 1030.25L36.72 1030.93L32.46 1030.93M36.72 1030.93L42.40 1030.93M34.59 1003.90L40.27 1003.90L41.69 1005.25L42.40 1006.61L42.40 1008.63L41.69 1009.98L40.27 1011.33L38.14 1012.01L36.72 1012.01L34.59 1011.33L33.17 1009.98L32.46 1008.63L32.46 1006.61L33.17 1005.25L34.59 1003.90L27.49 1003.90M40.27 1003.90L42.40 1003.90M36.72 999.17L36.72 991.07L35.30 991.07L33.88 991.74L33.17 992.42L32.46 993.77L32.46 995.80L33.17 997.15L34.59 998.50L36.72 999.17L38.14 999.17L40.27 998.50L41.69 997.15L42.40 995.80L42.40 993.77L41.69 992.42L40.27 991.07M42.40 978.91L35.30 978.91L33.17 979.58L32.46 980.93L32.46 982.96L33.17 984.31L35.30 986.34L32.46 986.34M35.30 986.34L42.40 986.34M40.27 974.18L41.69 973.50L42.40 971.48L42.40 969.45L41.69 967.42L40.27 966.75L39.56 966.75L38.14 967.42L37.43 968.77L36.72 972.15L36.01 973.50L34.59 974.18L33.17 973.50L32.46 971.48L32.46 969.45L33.17 967.42L34.59 966.75M42.40 962.02L32.46 962.02M26.78 962.02L27.49 961.34L28.20 962.02L27.49 962.69L26.78 962.02M32.46 957.96L32.46 955.94L27.49 955.94M42.40 952.56L42.40 953.91L41.69 955.26L39.56 955.94L32.46 955.94L32.46 953.24M32.46 941.75L42.40 945.80L32.46 949.86M42.40 945.80L45.24 947.16L46.66 948.51L47.37 949.86L47.37 950.53M47.37 922.16L47.37 926.89L24.65 926.89L24.65 922.16M24.65 926.21L47.37 926.21M42.40 917.43L27.49 917.43L42.40 907.97L27.49 907.97M47.37 903.92L24.65 891.76M34.59 880.27L40.27 880.27L41.69 881.63L42.40 882.98L42.40 885.00L41.69 886.35L40.27 887.71L38.14 888.38L36.72 888.38L34.59 887.71L33.17 886.35L32.46 885.00L32.46 882.98L33.17 881.63L34.59 880.27L32.46 880.27M40.27 880.27L42.40 880.27M32.46 869.47L32.46 871.49L33.17 872.84L34.59 874.19L36.72 874.87L32.46 874.87M36.72 874.87L42.40 874.87M40.27 858.66L41.69 860.01L42.40 861.36L42.40 863.39L41.69 864.74L40.27 866.09L38.14 866.76L36.72 866.76L34.59 866.09L33.17 864.74L32.46 863.39L32.46 861.36L33.17 860.01L34.59 858.66M40.27 854.60L41.69 853.93L42.40 851.90L42.40 849.87L41.69 847.85L40.27 847.17L39.56 847.17L38.14 847.85L37.43 849.20L36.72 852.58L36.01 853.93L34.59 854.60L33.17 853.93L32.46 851.90L32.46 849.87L33.17 847.85L34.59 847.17M36.72 843.12L36.72 835.01L35.30 835.01L33.88 835.69L33.17 836.36L32.46 837.71L32.46 839.74L33.17 841.09L34.59 842.44L36.72 843.12L38.14 843.12L40.27 842.44L41.69 841.09L42.40 839.74L42.40 837.71L41.69 836.36L40.27 835.01M40.27 822.85L41.69 824.20L42.40 825.55L42.40 827.58L41.69 828.93L40.27 830.28L38.14 830.96L36.72 830.96L34.59 830.28L33.17 828.93L32.46 827.58L32.46 825.55L33.17 824.20L34.59 822.85M36.01 819.81L31.39 816.43L36.01 813.06M42.40 800.56L42.40 810.02L35.30 803.26L33.17 801.91L31.75 801.23L30.33 801.23L28.91 801.91L28.20 802.58L27.49 803.94L27.49 806.64L28.20 807.99L28.91 808.66L30.33 809.34L31.04 809.34M47.37 796.50L47.37 791.77L24.65 791.77L24.65 796.50M24.65 792.45L47.37 792.45" fill="none" stroke="#000" stroke-width="1.65" stroke-linejoin="round" stroke-linecap="butt"/>
</svg>
</body></html>
